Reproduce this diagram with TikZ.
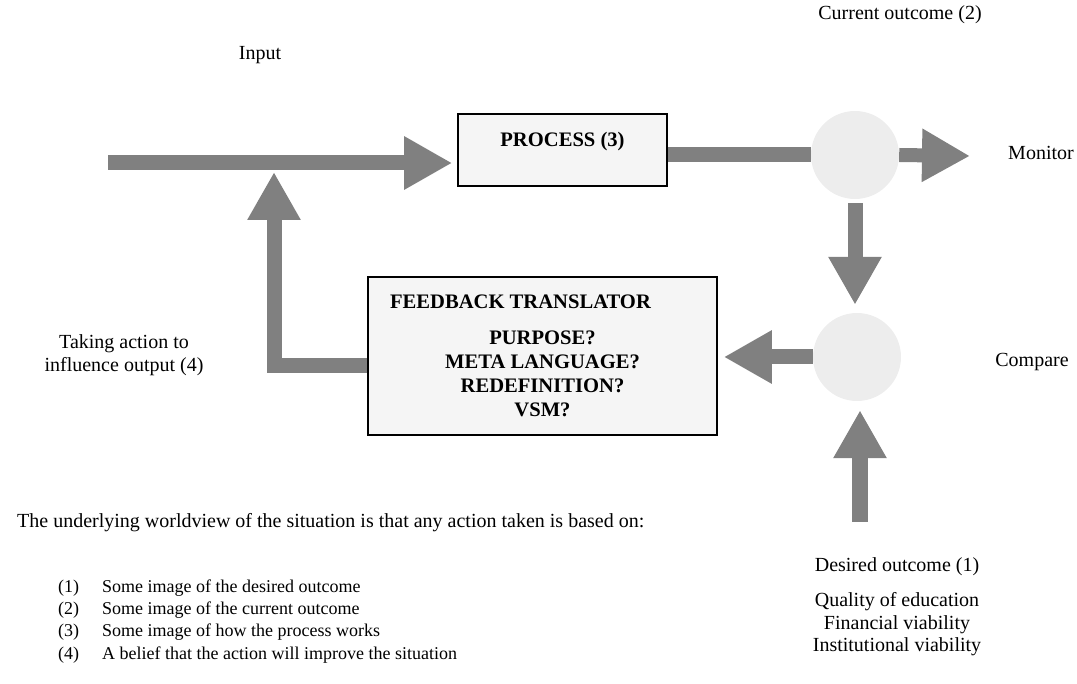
\documentclass[tikz,border=0pt]{standalone}
\usepackage{fontspec}
\setmainfont{Liberation Serif}
\usetikzlibrary{arrows.meta}
\begin{document}
\begin{tikzpicture}[x=1pt,y=-1pt,
  fat/.style={draw=black!50, line width=15pt, line join=miter,
    -{Triangle[length=48pt,width=50pt]}},
  shaft/.style={draw=black!50, line width=15pt},
  blk/.style={draw=black, line width=1.6pt, fill=black!4, inner sep=0pt},
  bub/.style={circle, fill=black!7, minimum size=88pt, inner sep=0pt},
  lbl/.style={font=\fontsize{20}{23}\selectfont, inner sep=0pt},
  bold/.style={font=\fontsize{20.6}{23}\selectfont\bfseries},
  note/.style={font=\fontsize{18}{22}\selectfont, inner sep=0pt, anchor=west}]
\useasboundingbox (0,0) rectangle (1077,684);

% boxes and bubbles
\node[blk, bold, minimum width=209pt, minimum height=72pt,
      text height=14pt, text depth=20pt] (proc) at (562.5,150) {PROCESS (3)};
\node[blk, bold, align=center, minimum width=349pt, minimum height=158pt]
  (fb) at (542.5,356)
  {FEEDBACK TRANSLATOR\hspace*{44pt}\\[13pt]
   PURPOSE?\\[1pt] META LANGUAGE?\\[1pt] REDEFINITION?\\[1pt] VSM?};
\node[bub] (c1) at (855,155) {};
\node[bub] (c2) at (857,357) {};

% free ends
\coordinate (inp) at (108,163);
\coordinate (mon) at (970,156);
\coordinate (corner) at (274,366);
\coordinate (join) at (274,172);
\coordinate (des) at (860,522);

% connectors
\draw[fat, shorten >=5pt] (inp) -- (inp -| proc.west);
\draw[shaft] (proc.east |- c1) -- (c1.west);
\draw[fat, line width=14pt] (c1.east) -- (mon);
\draw[fat, shorten <=4pt, shorten >=8pt] (c1.south) -- (c1.south |- c2.north);
\draw[fat, shorten >=6pt] (c2.west) -- (c2.west -| fb.east);
\draw[fat, line width=16pt, shorten >=9pt] (des) -- (des |- c2.south);
\draw[fat, line width=15pt] (fb.west |- corner) -- (corner) -- (join);

% labels
\node[lbl] (linput) at (260,55) {Input};
\node[lbl] (lcur) at (900,15) {Current outcome (2)};
\node[lbl] (lmon) at (1041,153) {Monitor};
\node[lbl] (lcmp) at (1032,362) {Compare};
\node[lbl, align=center] (lact) at (124,355) {Taking action to\\influence output (4)};
\node[lbl] (ldes) at (897,567) {Desired outcome (1)};
\node[lbl] (lq) at (897,602) {Quality of education};
\node[lbl] (lf) at (897,625) {Financial viability};
\node[lbl] (li) at (897,647) {Institutional viability};

% bottom note
\node[note, font=\fontsize{20}{22}\selectfont] (w0) at (17,523) {The underlying worldview of the situation is that any action taken is based on:};
\node[note] (n1) at (58,588) {(1)};
\node[note] (t1) at (102,588) {Some image of the desired outcome};
\node[note] (n2) at (58,610) {(2)};
\node[note] (t2) at (102,610) {Some image of the current outcome};
\node[note] (n3) at (58,632) {(3)};
\node[note] (t3) at (102,632) {Some image of how the process works};
\node[note] (n4) at (58,655) {(4)};
\node[note] (t4) at (102,655) {A belief that the action will improve the situation};
\end{tikzpicture}
\end{document}
